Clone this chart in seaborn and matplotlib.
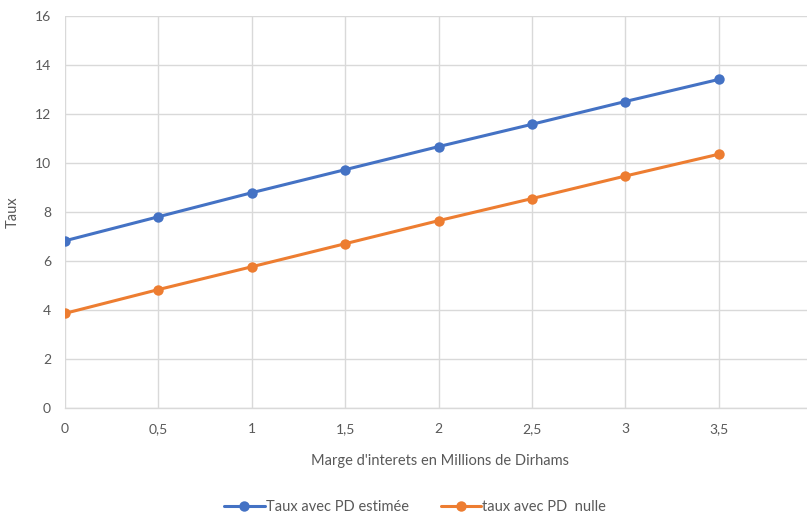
import matplotlib
matplotlib.use("Agg")
import matplotlib.pyplot as plt
from matplotlib.ticker import FuncFormatter, FixedLocator, MultipleLocator
import seaborn as sns
import pandas as pd

# Marge d'intérêts (millions de dirhams) et taux correspondants
marge = [0, 0.5, 1, 1.5, 2, 2.5, 3, 3.5]
taux_pd_estimee = [6.82, 7.80, 8.78, 9.72, 10.66, 11.57, 12.50, 13.40]
taux_pd_nulle = [3.86, 4.83, 5.76, 6.70, 7.64, 8.54, 9.46, 10.35]
serie_labels = ["Taux avec PD estimée", "taux avec PD  nulle"]
couleurs = ["#4472C4", "#ED7D31"]

df = pd.DataFrame({
    "marge": marge * 2,
    "taux": taux_pd_estimee + taux_pd_nulle,
    "serie": [serie_labels[0]] * len(marge) + [serie_labels[1]] * len(marge),
})

sns.set_style("white")
plt.rcParams["font.family"] = ["Lato", "DejaVu Sans"]

fig = plt.figure(figsize=(8.07, 5.15), dpi=100)
ax = fig.add_axes([65 / 807, 107 / 515, (812 - 65) / 807, 392.3 / 515])

sns.lineplot(data=df, x="marge", y="taux", hue="serie", palette=couleurs,
             marker="o", markersize=7.5, markeredgewidth=0, linewidth=2.2,
             ax=ax, legend=True)

ax.set_xlim(0, 4)
ax.set_ylim(0, 16)
ax.xaxis.set_major_locator(FixedLocator(marge))
ax.xaxis.set_minor_locator(FixedLocator([4]))
ax.yaxis.set_major_locator(MultipleLocator(2))
fmt = FuncFormatter(lambda v, p: (f"{v:g}").replace(".", ","))
ax.xaxis.set_major_formatter(fmt)
ax.yaxis.set_major_formatter(fmt)

ax.grid(True, color="#d9d9d9", linewidth=1)
ax.set_axisbelow(True)
for side in ["top", "right", "left"]:
    ax.spines[side].set_visible(False)
ax.spines["bottom"].set_color("#d9d9d9")
ax.spines["bottom"].set_linewidth(1)
ax.tick_params(axis="both", which="both", length=0, labelsize=10,
               colors="#595959")
ax.tick_params(axis="x", pad=11)
ax.tick_params(axis="y", pad=10)

ax.set_xlabel("Marge d'interets en Millions de Dirhams", fontsize=10.5,
              color="#595959")
ax.set_ylabel("Taux", fontsize=10.5, color="#595959")
ax.xaxis.set_label_coords((440 - 65) / 747, -46 / 392.3)
ax.yaxis.set_label_coords((20 - 65) / 747, 0.5)

handles, labels = ax.get_legend_handles_labels()
ax.legend(handles, labels, loc="center", bbox_to_anchor=(415 / 807, 8 / 515),
          bbox_transform=fig.transFigure, ncol=2, frameon=False,
          fontsize=10.5, labelcolor="#595959", handlelength=2.8,
          handletextpad=0.05, columnspacing=2.2)

fig.savefig("out.png", dpi=100)
